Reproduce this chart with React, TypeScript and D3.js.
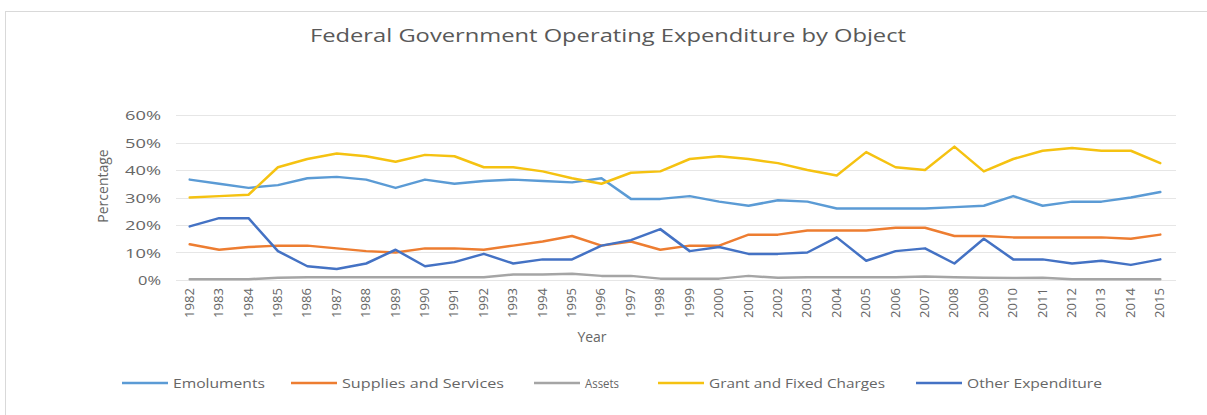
// @ts-nocheck
import React, { useEffect, useRef } from "react";
import * as d3 from "d3";

const years = d3.range(1982, 2016).map(String);
const yTicks = [0, 0.1, 0.2, 0.3, 0.4, 0.5, 0.6];

const emoluments = [36.5, 35, 33.5, 34.5, 37, 37.5, 36.5, 33.5, 36.5, 35, 36, 36.5, 36, 35.5, 37, 29.5, 29.5, 30.5, 28.5, 27, 29, 28.5, 26, 26, 26, 26, 26.5, 27, 30.5, 27, 28.5, 28.5, 30, 32];
const supplies = [13, 11, 12, 12.5, 12.5, 11.5, 10.5, 10, 11.5, 11.5, 11, 12.5, 14, 16, 12.5, 14, 11, 12.5, 12.5, 16.5, 16.5, 18, 18, 18, 19, 19, 16, 16, 15.5, 15.5, 15.5, 15.5, 15, 16.5];
const assets = [0.3, 0.3, 0.3, 0.8, 1, 1, 1, 1, 1, 1, 1, 2, 2, 2.3, 1.5, 1.5, 0.5, 0.5, 0.5, 1.5, 0.8, 1, 1, 1, 1, 1.3, 1, 0.8, 0.7, 0.8, 0.3, 0.3, 0.3, 0.3];
const grant = [30, 30.5, 31, 41, 44, 46, 45, 43, 45.5, 45, 41, 41, 39.5, 37, 35, 39, 39.5, 44, 45, 44, 42.5, 40, 38, 46.5, 41, 40, 48.5, 39.5, 44, 47, 48, 47, 47, 42.5];
const other = [19.5, 22.5, 22.5, 10.5, 5, 4, 6, 11, 5, 6.5, 9.5, 6, 7.5, 7.5, 12.5, 14.5, 18.5, 10.5, 12, 9.5, 9.5, 10, 15.5, 7, 10.5, 11.5, 6, 15, 7.5, 7.5, 6, 7, 5.5, 7.5];

const seriesNames = ["Emoluments", "Supplies and Services", "Assets", "Grant and Fixed Charges", "Other Expenditure"];
const seriesValues = [emoluments, supplies, assets, grant, other];
const seriesColors = ["#5B9BD5", "#ED7D31", "#A5A5A5", "#F5C211", "#4472C4"];

const W = 1207;
const H = 415;
const TXT = "#666666";
const FONT = "'Open Sans', 'Liberation Sans', sans-serif";

export default function App() {
  const ref = useRef();

  useEffect(() => {
    const svg = d3.select(ref.current);
    svg.selectAll("*").remove();

    svg.append("rect").attr("width", W).attr("height", H).attr("fill", "#fff");
    svg
      .append("rect")
      .attr("x", 5.5)
      .attr("y", 11.5)
      .attr("width", W + 20)
      .attr("height", H + 20)
      .attr("fill", "none")
      .attr("stroke", "#D9D9D9");

    const x = d3.scalePoint().domain(years).range([175, 1175]).padding(0.5);
    const y = d3.scaleLinear().domain([0, 0.6]).range([280, 115]);

    // title
    svg
      .append("text")
      .attr("x", 310)
      .attr("y", 42)
      .attr("textLength", 596)
      .attr("lengthAdjust", "spacingAndGlyphs")
      .attr("font-family", FONT)
      .attr("font-size", 18)
      .attr("fill", "#595959")
      .text("Federal Government Operating Expenditure by Object");

    // gridlines
    svg
      .append("g")
      .selectAll("line")
      .data(yTicks)
      .join("line")
      .attr("x1", 176)
      .attr("x2", 1176)
      .attr("y1", (d) => Math.round(y(d)) + 0.5)
      .attr("y2", (d) => Math.round(y(d)) + 0.5)
      .attr("stroke", "#E6E6E6")
      .attr("stroke-width", 1);

    // y tick labels
    svg
      .append("g")
      .selectAll("text")
      .data(yTicks)
      .join("text")
      .attr("x", 161)
      .attr("y", (d) => y(d) + 5)
      .attr("text-anchor", "end")
      .attr("font-family", FONT)
      .attr("font-size", 13)
      .attr("textLength", (d) => (d === 0 ? 23 : 36))
      .attr("lengthAdjust", "spacingAndGlyphs")
      .attr("fill", TXT)
      .text((d) => d3.format(".0%")(d));

    // x tick labels
    svg
      .append("g")
      .selectAll("text")
      .data(years)
      .join("text")
      .attr("transform", (d) => `translate(${x(d) + 4},288) rotate(-90)`)
      .attr("text-anchor", "end")
      .attr("font-family", FONT)
      .attr("font-size", 12)
      .attr("textLength", 30)
      .attr("lengthAdjust", "spacingAndGlyphs")
      .attr("fill", TXT)
      .text((d) => d);

    // axis titles
    svg
      .append("text")
      .attr("transform", "translate(108,186) rotate(-90)")
      .attr("text-anchor", "middle")
      .attr("font-family", FONT)
      .attr("font-size", 14)
      .attr("fill", TXT)
      .text("Percentage");
    svg
      .append("text")
      .attr("x", 592)
      .attr("y", 342)
      .attr("text-anchor", "middle")
      .attr("font-family", FONT)
      .attr("font-size", 14)
      .attr("fill", TXT)
      .text("Year");

    // lines
    const line = d3
      .line()
      .x((d, i) => x(years[i]))
      .y((d) => y(d / 100));
    svg
      .append("g")
      .selectAll("path")
      .data(seriesValues)
      .join("path")
      .attr("d", (d) => line(d))
      .attr("fill", "none")
      .attr("stroke", (d, i) => seriesColors[i])
      .attr("stroke-width", 2.5)
      .attr("stroke-linejoin", "round")
      .attr("stroke-linecap", "round");

    // legend
    const legendX = [122, 291, 534, 658, 916];
    const legendW = [92, 162, 34, 176, 135];
    const lg = svg
      .append("g")
      .selectAll("g")
      .data(seriesNames)
      .join("g")
      .attr("transform", (d, i) => `translate(${legendX[i]},383)`);
    lg.append("line")
      .attr("x1", 0)
      .attr("x2", 46)
      .attr("stroke", (d, i) => seriesColors[i])
      .attr("stroke-width", 2.5);
    lg.append("text")
      .attr("x", 51)
      .attr("y", 4.5)
      .attr("font-family", FONT)
      .attr("font-size", 12)
      .attr("textLength", (d, i) => legendW[i])
      .attr("lengthAdjust", "spacingAndGlyphs")
      .attr("fill", TXT)
      .text((d) => d);
  }, []);

  return (
    <svg
      ref={ref}
      width={W}
      height={H}
      style={{ position: "absolute", left: 0, top: 0 }}
    ></svg>
  );
}
